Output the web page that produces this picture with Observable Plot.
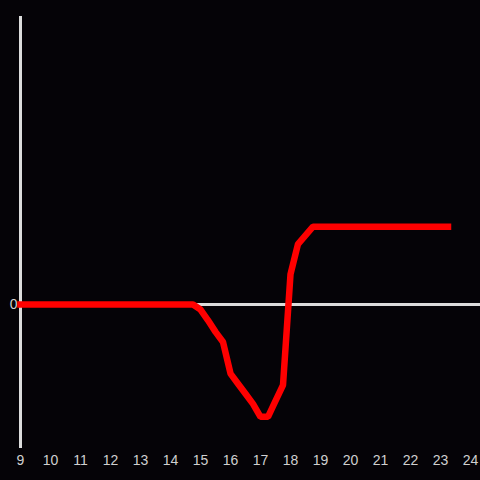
<!DOCTYPE html>
<html>
<head>
<meta charset="utf-8">
<script src="https://cdn.jsdelivr.net/npm/d3@7"></script>
<script src="https://cdn.jsdelivr.net/npm/@observablehq/plot@0.6"></script>
<style>
  html, body { margin: 0; padding: 0; background: #050307; }
  #chart { width: 480px; height: 480px; }
</style>
</head>
<body>
<div id="chart"></div>
<script>
const hours = [9, 9.25, 9.5, 9.75, 10, 10.25, 10.5, 10.75, 11, 11.25, 11.5, 11.75, 12, 12.25, 12.5, 12.75, 13, 13.25, 13.5, 13.75, 14, 14.25, 14.5, 14.75,
  15, 15.25, 15.5, 15.75, 16, 16.25, 16.5, 16.75, 17, 17.25, 17.5, 17.75, 18, 18.25, 18.5, 18.75,
  19, 19.25, 19.5, 19.75, 20, 20.25, 20.5, 20.75, 21, 21.25, 21.5, 21.75, 22, 22.25, 22.5, 22.75, 23, 23.25];
const values = [0, 0, 0, 0, 0, 0, 0, 0, 0, 0, 0, 0, 0, 0, 0, 0, 0, 0, 0, 0, 0, 0, 0, 0,
  -0.035, -0.11, -0.19, -0.26, -0.48, -0.55, -0.62, -0.69, -0.78, -0.78, -0.67, -0.56, 0.21, 0.42, 0.48, 0.54,
  0.54, 0.54, 0.54, 0.54, 0.54, 0.54, 0.54, 0.54, 0.54, 0.54, 0.54, 0.54, 0.54, 0.54, 0.54, 0.54, 0.54, 0.54];
const xTicks = [9, 10, 11, 12, 13, 14, 15, 16, 17, 18, 19, 20, 21, 22, 23, 24];
const yTicks = [0];

const data = hours.map((h, i) => ({hour: h, value: values[i]}));

const chart = Plot.plot({
  width: 480,
  height: 480,
  marginLeft: 20,
  marginRight: 0,
  marginTop: 16,
  marginBottom: 32,
  style: {background: "#050307", color: "#d0d0d0", fontFamily: "Liberation Sans, Arial, sans-serif", fontSize: "14px"},
  x: {domain: [9, 24 + 1/3], ticks: xTicks, tickSize: 0, tickPadding: 7, label: null, tickFormat: d => String(d)},
  y: {domain: [-1, 2], ticks: yTicks, tickSize: 0, tickPadding: 3, label: null, tickFormat: d => String(d)},
  marks: [
    Plot.ruleY([0], {stroke: "#dcdcdc", strokeWidth: 3}),
    Plot.ruleX([9], {stroke: "#dcdcdc", strokeWidth: 3}),
    Plot.line(data, {x: "hour", y: "value", stroke: "#ff0000", strokeWidth: 6.5, strokeLinejoin: "miter", strokeLinecap: "square"})
  ]
});
document.getElementById("chart").appendChild(chart);
</script>
</body>
</html>
